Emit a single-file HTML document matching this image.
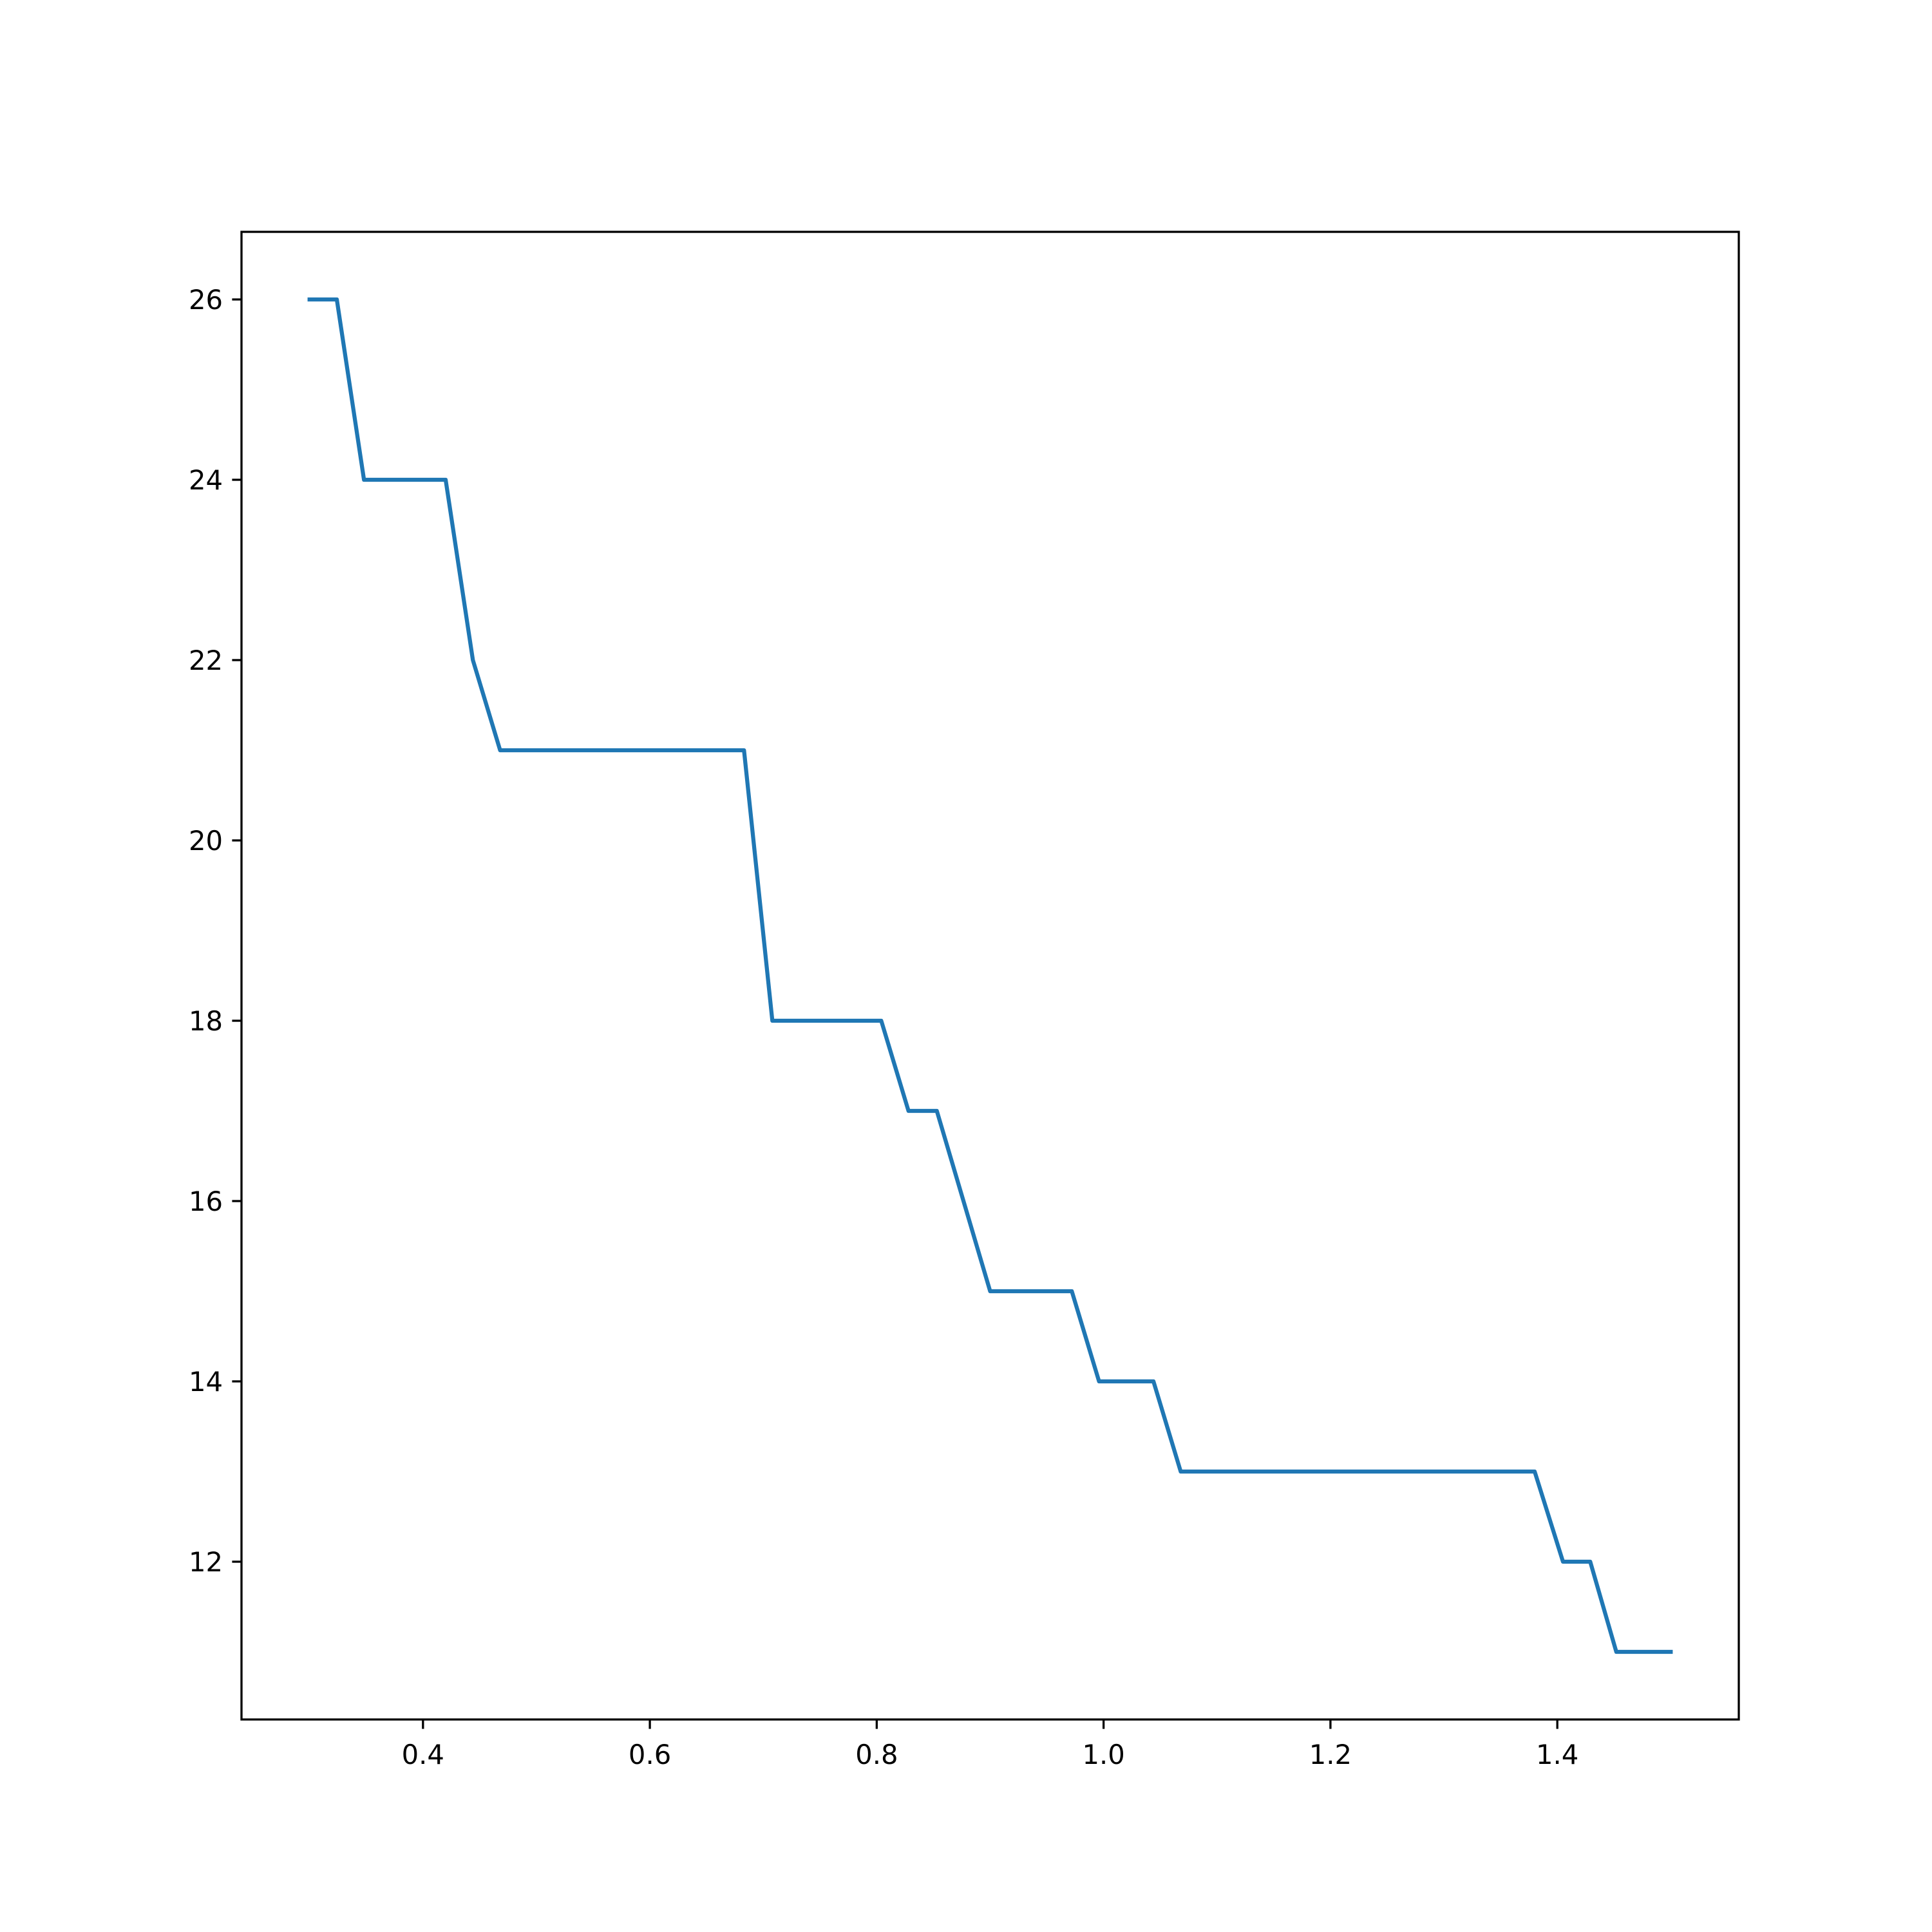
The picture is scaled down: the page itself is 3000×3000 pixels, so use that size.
<!DOCTYPE html>
<html><head><meta charset="utf-8"><style>html,body{margin:0;padding:0;background:#fff}svg{display:block}</style></head>
<body>
<svg id="chart" width="3000" height="3000" viewBox="0 0 3000 3000" xmlns="http://www.w3.org/2000/svg"></svg>
<script>
const xValues = [0.3,0.324,0.348,0.42,0.444,0.468,0.683,0.708,0.804,0.828,0.853,0.9,0.972,0.996,1.044,1.068,1.38,1.405,1.429,1.452,1.5];
const yValues = [26,26,24,24,22,21,21,18,18,17,17,15,15,14,14,13,13,12,12,11,11];
const xTicks = [0.4,0.6,0.8,1.0,1.2,1.4];
const xTickLabels = ["0.4","0.6","0.8","1.0","1.2","1.4"];
const yTicks = [12,14,16,18,20,22,24,26];
const yTickLabels = ["12","14","16","18","20","22","24","26"];

const NS="http://www.w3.org/2000/svg";
const svg=document.getElementById('chart');
const L=375,R=2700,T=360,B=2670;
const xmin=0.24,xmax=1.56,ymin=10.25,ymax=26.75;
const sx=v=>L+(v-xmin)/(xmax-xmin)*(R-L);
const sy=v=>B-(v-ymin)/(ymax-ymin)*(B-T);
function mk(t,a){const e=document.createElementNS(NS,t);for(const k in a)e.setAttribute(k,a[k]);svg.appendChild(e);return e;}

const pts=xValues.map((x,i)=>sx(x).toFixed(1)+','+sy(yValues[i]).toFixed(1)).join(' ');
const line=mk('polyline',{points:pts,fill:'none',stroke:'#1f77b4','stroke-width':6.25,'stroke-linejoin':'round','stroke-linecap':'square'});



xTicks.forEach((v,i)=>{
  const t=mk('line',{x1:sx(v),x2:sx(v),y1:B,y2:B+14.6,stroke:'#000','stroke-width':3.3});
  
  
  const l=mk('text',{x:sx(v),y:B+69,'text-anchor':'middle','font-family':'DejaVu Sans, Liberation Sans, sans-serif','font-size':41.7,fill:'#000'});
  l.textContent=xTickLabels[i];
  
  
});
yTicks.forEach((v,i)=>{
  const t=mk('line',{x1:L-14.6,x2:L,y1:sy(v),y2:sy(v),stroke:'#000','stroke-width':3.3});
  
  
  const l=mk('text',{x:L-29,y:sy(v)+15,'text-anchor':'end','font-family':'DejaVu Sans, Liberation Sans, sans-serif','font-size':41.7,fill:'#000'});
  l.textContent=yTickLabels[i];
  
  
});
const frame=mk('rect',{x:L,y:T,width:R-L,height:B-T,fill:'none',stroke:'#000','stroke-width':3.3});


</script>
</body></html>
